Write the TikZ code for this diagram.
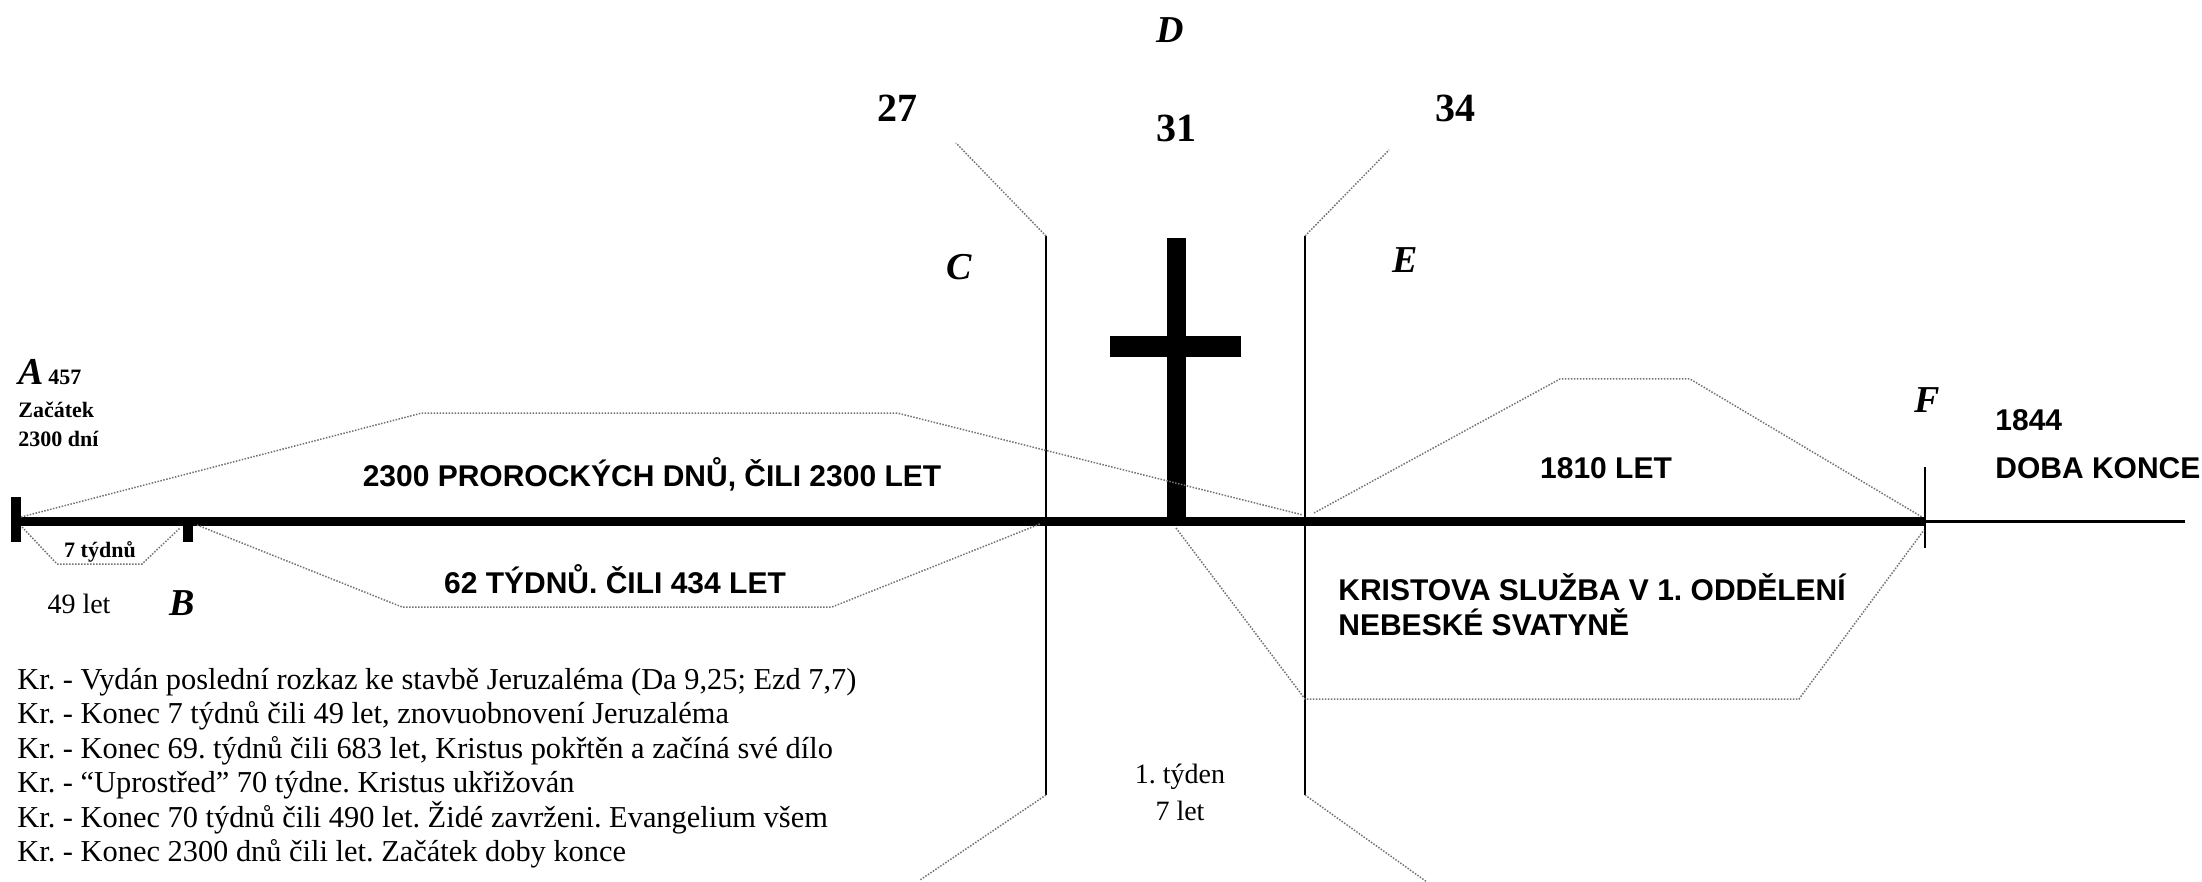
\documentclass[tikz,border=0pt]{standalone}
\usepackage{fontspec}
\setmainfont{Liberation Serif}
\newfontfamily\arialf{Liberation Sans}
\frenchspacing
\begin{document}
\begin{tikzpicture}[x=0.5pt,y=-0.5pt,
  dots/.style={black!55, line width=0.75pt, dash pattern=on 0.75pt off 0.75pt},
  lett/.style={font=\fontsize{19}{22}\selectfont\bfseries\itshape, inner sep=0, anchor=base},
  yr/.style={font=\fontsize{20}{24}\selectfont\bfseries, inner sep=0, anchor=base},
  sb/.style={font=\fontsize{11}{13}\selectfont\bfseries, inner sep=0},
  tm/.style={font=\fontsize{14}{16}\selectfont, inner sep=0},
  ar/.style={font=\arialf\bfseries\fontsize{15}{17}\selectfont, inner sep=0},
  lst/.style={font=\fontsize{15.2}{17}\selectfont, inner sep=0, anchor=base west},
  vline/.style={line width=1pt}
]
\useasboundingbox (0,0) rectangle (2202,882);
% timeline
\coordinate (tA) at (16,521);
\coordinate (tF) at (1925,521);
\coordinate (tEnd) at (2185,521);
\draw[line width=4.5pt] (tA) -- (tF);
\draw[line width=1.5pt] (tF) -- (tEnd);
\fill (11,497) rectangle (21,542);
\fill (183,519) rectangle (193,542);
\coordinate (Ftop) at (1925,467);
\coordinate (Fbot) at (1925,548);
\draw[vline] (Ftop) -- (Fbot);
% C and E lines
\coordinate (Ctop) at (1046,236);
\coordinate (Cbot) at (1046,795);
\coordinate (Etop) at (1305,236);
\coordinate (Ebot) at (1305,795);
\draw[vline] (Ctop) -- (Cbot);
\draw[vline] (Etop) -- (Ebot);
% cross
\fill (1167,238) rectangle (1186,525);
\fill (1110,336) rectangle (1241,357);
% dotted guides
\draw[dots] (21,517) -- (422,413) -- (897,413) -- (1303,515);
\draw[dots] (197,525) -- (402,607) -- (832,607) -- (1040,524);
\draw[dots] (22,527) -- (57,564) -- (142,564) -- (180,528);
\draw[dots] (1314,513) -- (1560,379) -- (1690,379) -- (1922,517);
\draw[dots] (1176,528) -- (1305,699) -- (1799,699) -- (1924,530);
\coordinate (g27) at (956,143);
\coordinate (g34) at (1389,150);
\coordinate (gCb) at (920,880);
\coordinate (gEb) at (1427,882);
\draw[dots] (Ctop) -- (g27);
\draw[dots] (Etop) -- (g34);
\draw[dots] (Cbot) -- (gCb);
\draw[dots] (Ebot) -- (gEb);
% labels
\node[lett] (D) at (1170,43) {D};
\node[yr] (y27) at (897,122) {27};
\node[yr] (y31) at (1176,142) {31};
\node[yr] (y34) at (1455,122) {34};
\node[lett] (C) at (959,280) {C};
\node[lett] (E) at (1405,273) {E};
\node[lett] (F) at (1927,413) {F};
\node[lett, anchor=base west] (A) at (18,385) {A};
\node[sb, anchor=base west] (a457) at (48,385) {457};
\node[sb, anchor=base west] (zac) at (18,417) {Začátek};
\node[sb, anchor=base west] (dni) at (18,446) {2300 dní};
\node[sb, anchor=base] (t7) at (100,557) {7 týdnů};
\node[tm, anchor=base] (l49) at (79,613) {49 let};
\node[lett] (B) at (182,615) {B};
\node[ar, anchor=base] (p2300) at (652,487) {2300 PROROCKÝCH DNŮ, ČILI 2300 LET};
\node[ar, anchor=base] (p62) at (615,593) {62 TÝDNŮ. ČILI 434 LET};
\node[ar, anchor=base] (p1810) at (1606,478) {1810 LET};
\node[ar, anchor=base west] (y1844) at (1995,430) {1844};
\node[ar, anchor=base west] (konec) at (1995,478) {DOBA KONCE};
\node[ar, anchor=base west] (k1) at (1338,600) {KRISTOVA SLUŽBA V 1. ODDĚLENÍ};
\node[ar, anchor=base west] (k2) at (1338,635) {NEBESKÉ SVATYNĚ};
\node[tm, anchor=base] (tyd) at (1180,783) {1. týden};
\node[tm, anchor=base] (let7) at (1180,820) {7 let};
% legend list
\node[lst] (l1) at (17,689) {Kr. - Vydán poslední rozkaz ke stavbě Jeruzaléma (Da 9,25; Ezd 7,7)};
\node[lst] (l2) at (17,723.5) {Kr. - Konec 7 týdnů čili 49 let, znovuobnovení Jeruzaléma};
\node[lst] (l3) at (17,758) {Kr. - Konec 69. týdnů čili 683 let, Kristus pokřtěn a začíná své dílo};
\node[lst] (l4) at (17,792.5) {Kr. - “Uprostřed” 70 týdne. Kristus ukřižován};
\node[lst] (l5) at (17,827) {Kr. - Konec 70 týdnů čili 490 let. Židé zavrženi. Evangelium všem};
\node[lst] (l6) at (17,861.5) {Kr. - Konec 2300 dnů čili let. Začátek doby konce};
\end{tikzpicture}
\end{document}
